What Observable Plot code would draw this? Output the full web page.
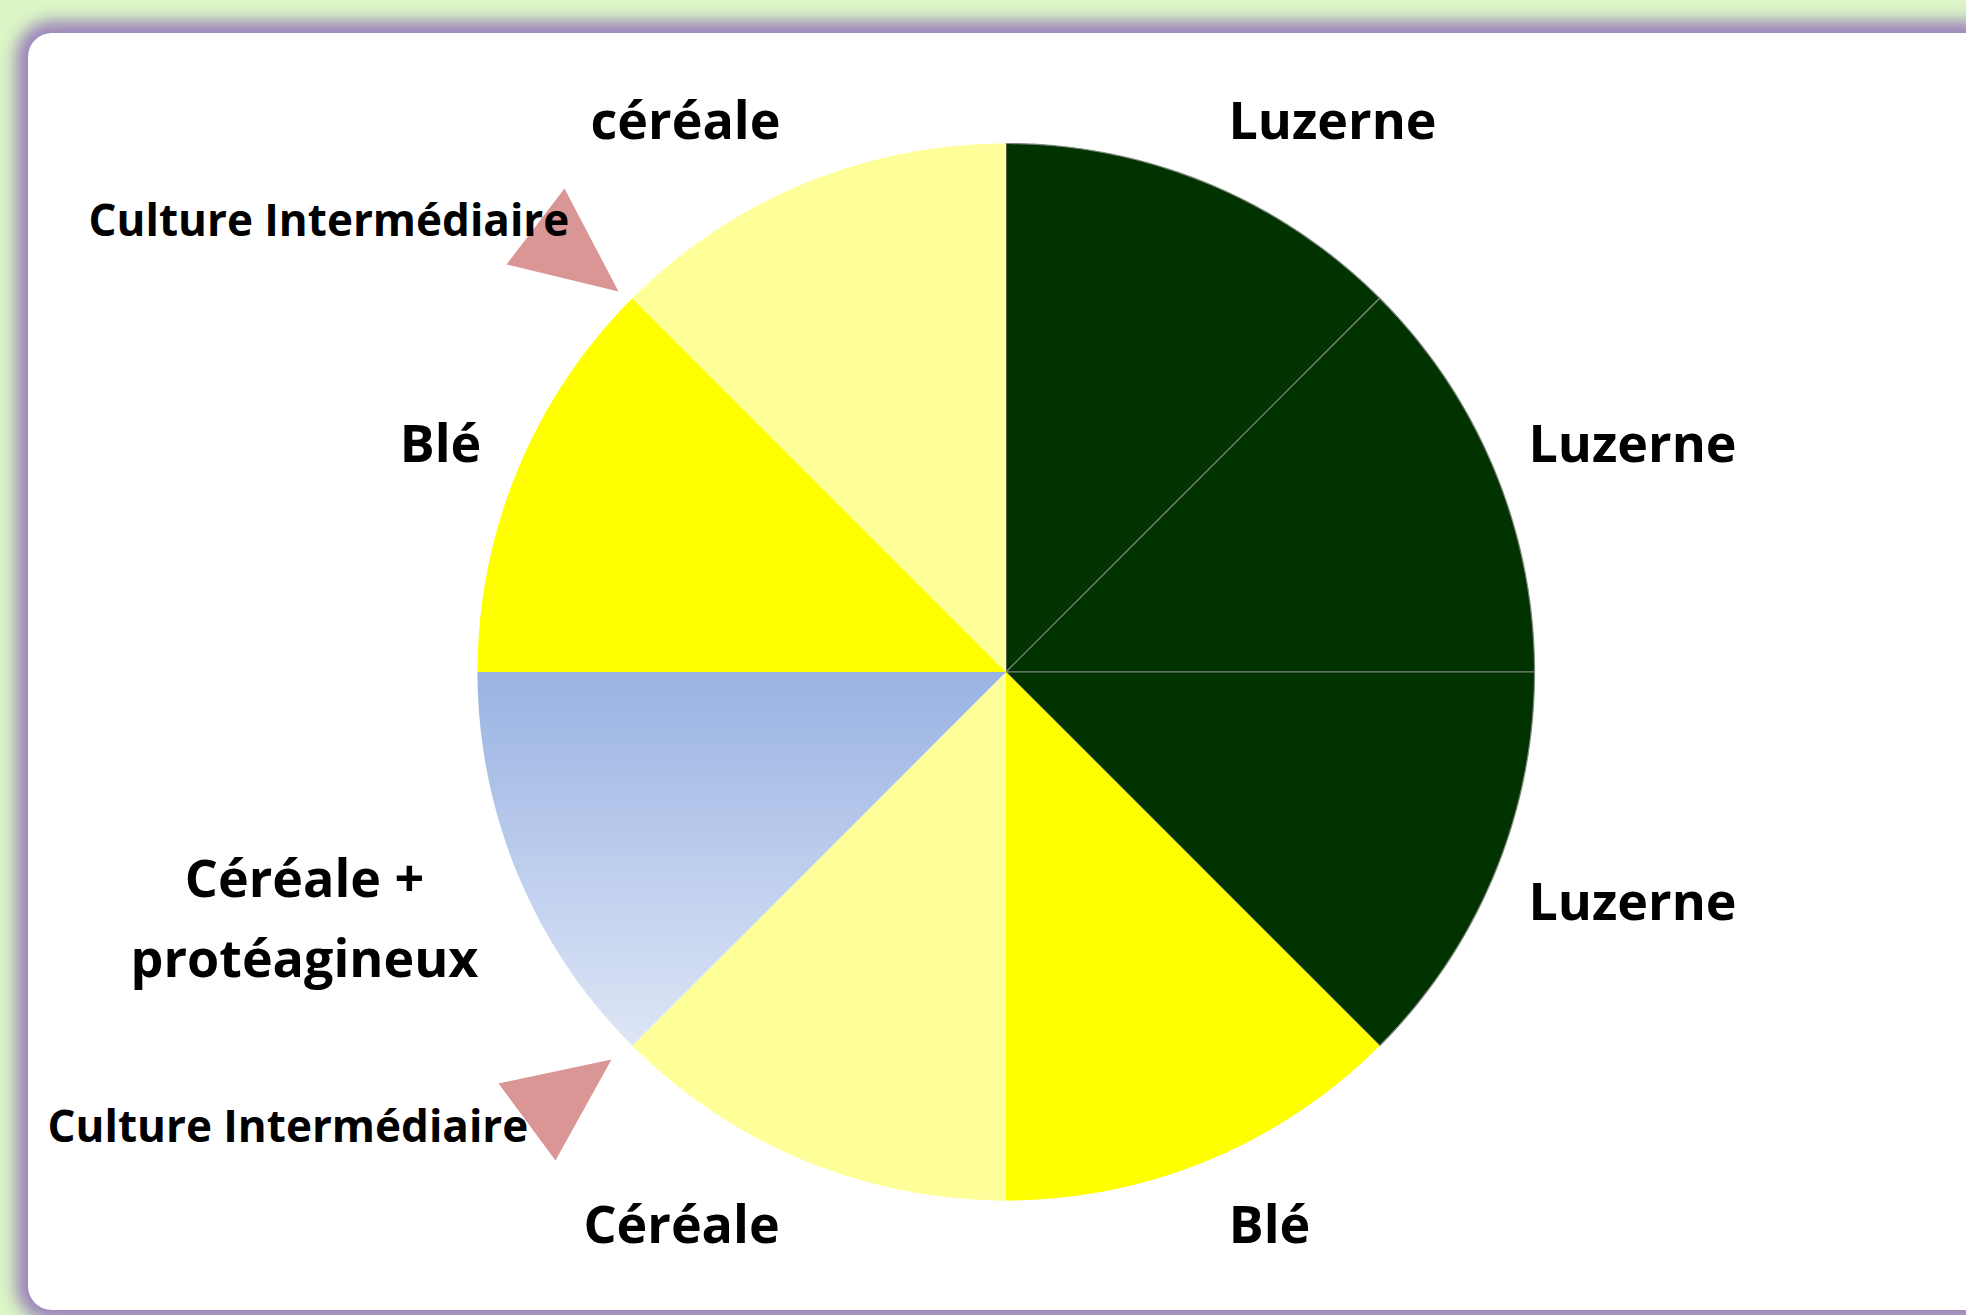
<!DOCTYPE html>
<html><head><meta charset="utf-8">
<script src="https://cdn.jsdelivr.net/npm/d3@7"></script>
<script src="https://cdn.jsdelivr.net/npm/@observablehq/plot@0.6"></script>
<style>
html,body{margin:0;padding:0;}
body{width:1966px;height:1315px;overflow:hidden;background:#dcf6c6;position:relative;font-family:"Open Sans",sans-serif;}
#panel{position:absolute;left:28px;top:33px;width:1962px;height:1277px;background:#fff;border-radius:24px;box-shadow:0 0 16px 12px rgba(150,122,186,0.92);}
#chart{position:absolute;left:0;top:0;}
</style></head><body>
<div id="panel"></div><div id="chart"></div>
<script>
// ---- data (clockwise from 12 o'clock) ----
const categories = ["Luzerne","Luzerne","Luzerne","Blé","Céréale","Céréale + protéagineux","Blé","céréale"];
const shares = [1,1,1,1,1,1,1,1];
const cropKinds = ["Luzerne","Luzerne","Luzerne","Blé","Céréale","Mélange","Blé","Céréale"];
const intercropLabels = ["Culture Intermédiaire","Culture Intermédiaire"];

// ---- layout / styles ----
const W = 1966, H = 1315;
const CX = 1005.5, CY = 671.5, R = 528.5;
const palette = {"Luzerne":"#003300","Blé":"#ffff00","Céréale":"#ffff99","Mélange":"url(#gradCP)"};
const edge = {"Luzerne":"#7d857d"};
const labelPlace = [
  {x:1332,y:138},{x:1632,y:461},{x:1632,y:919},
  {x:1269,y:1242},{x:681,y:1242},{x:304,y:976},
  {x:440,y:461},{x:685,y:138}
];
const intercropPlace = [{x:88,y:235},{x:47,y:1141}];
const calloutShapes = [
  [[564,188],[506,264],[618,291]],
  [[498,1083],[611,1059],[555,1160]]
];

// pie geometry from the shares
const arcs = d3.pie().sort(null).value(d => d)(shares);
const slicePts = [];
arcs.forEach((a, i) => {
  const n = 120;
  slicePts.push({i, x: CX, y: CY});
  for (let k = 0; k <= n; k++) {
    const t = a.startAngle + (a.endAngle - a.startAngle) * k / n;
    slicePts.push({i, x: CX + R * Math.sin(t), y: CY - R * Math.cos(t)});
  }
  slicePts.push({i, x: CX, y: CY});
});
const calloutPts = calloutShapes.flatMap((tri, id) => [...tri, tri[0]].map(([x, y]) => ({id, x, y})));

const labelData = categories.map((c, i) => ({text: c.replace(" + ", " +\n"), ...labelPlace[i]}));
const intercropData = intercropLabels.map((t, i) => ({text: t, ...intercropPlace[i]}));

const chart = Plot.plot({
  width: W, height: H, margin: 0,
  x: {domain: [0, W], range: [0, W], axis: null},
  y: {domain: [0, H], range: [0, H], axis: null},
  color: {type: "identity"},
  style: {background: "transparent", overflow: "visible"},
  marks: [
    Plot.line(slicePts, {x: "x", y: "y", z: "i", curve: "linear",
      fill: d => palette[cropKinds[d.i]],
      stroke: d => edge[cropKinds[d.i]] || "none", strokeWidth: 1.2}),
    Plot.line(calloutPts, {x: "x", y: "y", z: "id", curve: "linear", fill: "#d99694", stroke: "none"}),
    Plot.text(intercropData, {x: "x", y: "y", text: "text", textAnchor: "start", lineAnchor: "bottom",
      fontSize: 44, fontWeight: "bold", fontFamily: "Open Sans", fill: "#000"}),
    Plot.text(labelData, {x: "x", y: "y", text: "text", textAnchor: "middle", lineAnchor: "bottom",
      lineHeight: 1.52, fontSize: 52, fontWeight: "bold", fontFamily: "Open Sans", fill: "#000"})
  ]
});
d3.select(chart).insert("defs", ":first-child").html(
  '<linearGradient id="gradCP" x1="0" y1="0" x2="0" y2="1">' +
  '<stop offset="0" stop-color="#99b3e3"/><stop offset="1" stop-color="#dee6f6"/></linearGradient>');
document.getElementById("chart").appendChild(chart);
</script>
</body></html>
